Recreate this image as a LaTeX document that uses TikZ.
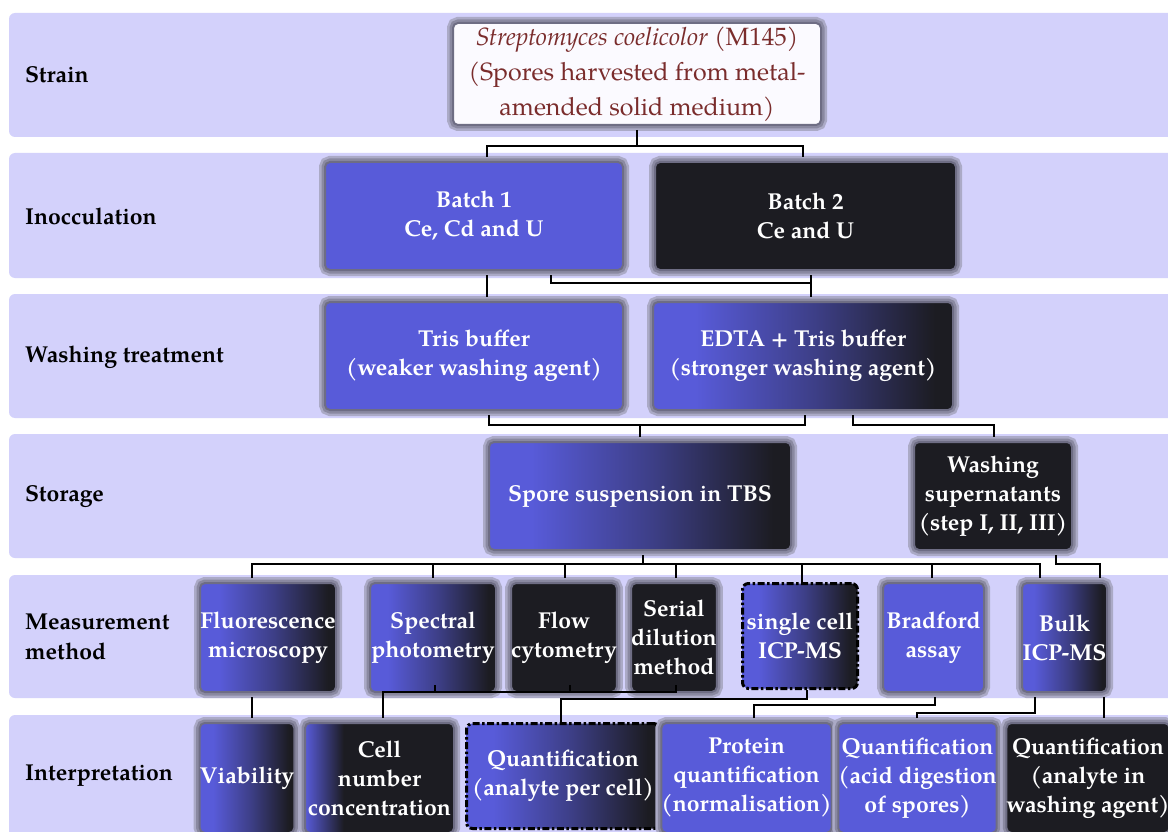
\documentclass[tikz,border=0pt]{standalone}
\usepackage{fontspec}
\setmainfont{TeX Gyre Pagella}
\usetikzlibrary{calc}
\definecolor{bandc}{HTML}{D3D1FB}
\definecolor{bl}{HTML}{585BD9}
\definecolor{blk}{HTML}{1C1C22}
\definecolor{haloL}{HTML}{ABAAC6}
\definecolor{haloD}{HTML}{8A89A1}
\definecolor{haloE}{HTML}{6E6D84}
\definecolor{redt}{HTML}{7A2C2C}
\definecolor{strainfill}{HTML}{FBFAFF}
\colorlet{blmid}{bl!55!blk}
\pgfdeclarehorizontalshading{cellsh}{100bp}{color(0bp)=(bl); color(25bp)=(bl); color(38bp)=(blk); color(100bp)=(blk)}
\pgfdeclarehorizontalshading{gradsh}{100bp}{color(0bp)=(bl); color(25bp)=(bl); color(32bp)=(bl); color(52bp)=(blmid); color(72bp)=(blk); color(100bp)=(blk)}
\tikzset{
  band/.style={fill=bandc, rounded corners=6pt},
  lab/.style={anchor=west, inner sep=0pt, align=left, font=\fontsize{23}{30}\selectfont\bfseries},
  box/.style={rectangle, rounded corners=5pt, inner sep=0pt, outer sep=5pt, align=center, text=white,
    font=\fontsize{23}{29}\selectfont\bfseries,
    preaction={draw=haloL, line width=12pt},
    preaction={draw=haloD, line width=7pt},
    draw=haloE, line width=2pt},
  bluebox/.style={box, fill=bl},
  blackbox/.style={box, fill=blk},
  gradbox/.style={box, shading=gradsh},
  cellbox/.style={box, shading=cellsh},
  strainbox/.style={box, fill=strainfill, text=redt, font=\fontsize{25}{35}\selectfont},
  ddbox/.style={rectangle, rounded corners=6pt, inner sep=0pt, outer sep=1.5pt, align=center, text=white,
    font=\fontsize{23}{29}\selectfont\bfseries, draw=black, line width=3pt,
    dash pattern=on 7pt off 2.5pt on 2.5pt off 2.5pt, shading=gradsh},
  conn/.style={draw=black, line width=1.6pt}
}
\newcommand{\placebox}[7]{\node[#2, minimum width={#5-#3-10}, minimum height={#6-#4-10}] (#1) at ({(#3+#5)/2},{(#4+#6)/2}) {#7};}
\newcommand{\placedd}[7]{\node[#2, minimum width={#5-#3-3}, minimum height={#6-#4-3}] (#1) at ({(#3+#5)/2},{(#4+#6)/2}) {#7};}
\begin{document}
\begin{tikzpicture}[x=1pt, y=-1pt]
\useasboundingbox (0,0) rectangle (1168,832);
\clip (0,0) rectangle (1168,832);
\fill[white] (0,0) rectangle (1168,832);
% bands
\fill[band] (9,13) rectangle (1220,137);
\fill[band] (9,153) rectangle (1220,278);
\fill[band] (9,294) rectangle (1220,418);
\fill[band] (9,434) rectangle (1220,558);
\fill[band] (9,575) rectangle (1220,698);
\fill[band] (9,715) rectangle (1220,900);
% row labels
\node[lab] (Lstrain) at (25,75) {Strain};
\node[lab] (Linoc) at (25,216) {Inocculation};
\node[lab] (Lwash) at (25,357) {Washing treatment};
\node[lab] (Lstor) at (25,497) {Storage};
\node[lab] (Lmeas) at (25,637) {Measurement\\method};
\node[lab] (Linterp) at (25,776) {Interpretation};
% boxes
\placebox{strain}{strainbox}{448}{18}{826}{130}{\textit{Streptomyces coelicolor} (M145)\\(Spores harvested from metal-\\amended solid medium)}
\placebox{b1}{bluebox}{320}{157}{628}{275}{Batch 1\\Ce, Cd and U}
\placebox{b2}{blackbox}{650}{157}{961}{275}{Batch 2\\Ce and U}
\placebox{tris}{bluebox}{320}{297}{628}{415}{Tris buffer\\(weaker washing agent)}
\placebox{edta}{gradbox}{648}{297}{958}{415}{EDTA + Tris buffer\\(stronger washing agent)}
\placebox{spore}{gradbox}{484}{437}{796}{555}{Spore suspension in TBS}
\placebox{super}{blackbox}{909}{437}{1077}{555}{Washing\\supernatants\\(step I, II, III)}
\placebox{fluo}{gradbox}{195}{578}{341}{697}{Fluorescence\\microscopy}
\placebox{spec}{gradbox}{365}{578}{501}{697}{Spectral\\photometry}
\placebox{flow}{blackbox}{507}{578}{621}{697}{Flow\\cytometry}
\placebox{serial}{blackbox}{627}{578}{721}{697}{Serial\\dilution\\method}
\placedd{sc}{ddbox}{741}{582}{859}{690}{single cell\\ICP-MS}
\placebox{brad}{bluebox}{878}{578}{989}{697}{Bradford\\assay}
\placebox{bulk}{gradbox}{1017}{578}{1112}{697}{Bulk\\ICP-MS}
\placebox{via}{gradbox}{197}{718}{297}{838}{Viability}
\placebox{cell}{cellbox}{300}{718}{459}{838}{Cell\\number\\concentration}
\placedd{qpc}{ddbox}{465}{722}{661}{830}{Quantification\\(analyte per cell)}
\placebox{prot}{bluebox}{664}{718}{829}{838}{Protein\\quantification\\(normalisation)}
\placebox{acid}{bluebox}{835}{718}{1000}{838}{Quantification\\(acid digestion\\of spores)}
\placebox{wash}{blackbox}{1006}{718}{1170}{838}{Quantification\\(analyte in\\washing agent)}
% connectors
\draw[conn] (strain.south) -- (strain.south |- 0,146);
\draw[conn] (b1.north -| 487,0) |- (803,146) -- (b2.north -| 803,0);
\draw[conn] (b1.south -| 487,0) -- (tris.north -| 487,0);
\draw[conn] (b1.south -| 551,0) |- (811,283);
\draw[conn] (b2.south -| 811,0) -- (edta.north -| 811,0);
\draw[conn] (tris.south -| 489,0) |- (805,425) -- (edta.south -| 805,0);
\draw[conn] (spore.north -| 640,0) -- (640,425);
\draw[conn] (edta.south -| 853,0) |- (994,425) -- (super.north -| 994,0);
\draw[conn] (spore.south -| 643,0) -- (643,564);
\draw[conn] (fluo.north -| 252,0) |- (1040,564) -- (bulk.north -| 1040,0);
\draw[conn] (spec.north -| 433,0) -- (433,564);
\draw[conn] (flow.north -| 565,0) -- (565,564);
\draw[conn] (serial.north -| 676,0) -- (676,564);
\draw[conn] (sc.north -| 802,0) -- (802,564);
\draw[conn] (brad.north -| 932,0) -- (932,564);
\draw[conn] (super.south -| 1056,0) |- (1100,564) -- (bulk.north -| 1100,0);
\draw[conn] (fluo.south -| 252,0) -- (via.north -| 252,0);
\draw[conn] (cell.north -| 383,0) |- (676,692) -- ([yshift=12pt]serial.south -| 676,0);
\draw[conn] ([yshift=12pt]spec.south -| 435,0) -- (435,692);
\draw[conn] ([yshift=12pt]flow.south -| 570,0) -- (570,692);
\draw[conn] (qpc.north -| 561,0) |- (807,699) -- (sc.south -| 807,0);
\draw[conn] (prot.north -| 754,0) |- (935,705) -- (brad.south -| 935,0);
\draw[conn] (acid.north -| 917,0) |- (1035,713) -- (bulk.south -| 1035,0);
\draw[conn] (bulk.south -| 1104,0) -- (wash.north -| 1104,0);
\end{tikzpicture}
\end{document}
